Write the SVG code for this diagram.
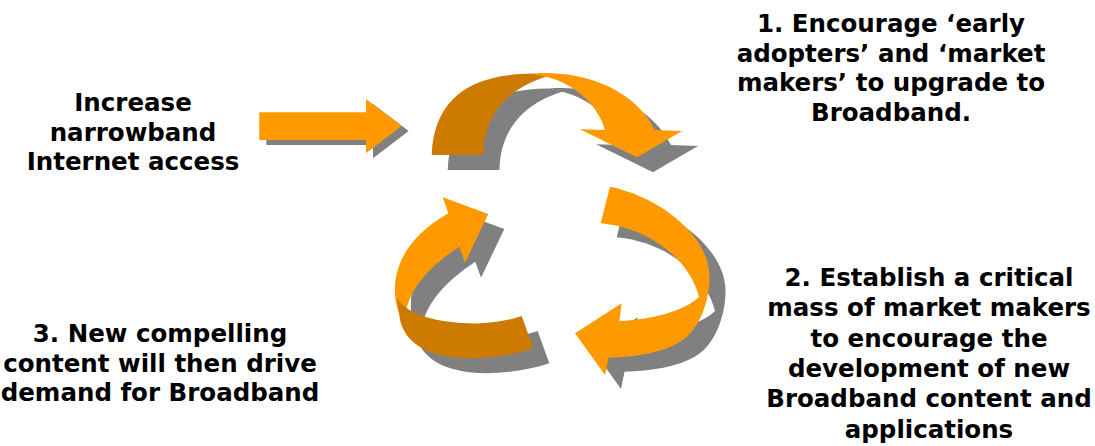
<svg xmlns="http://www.w3.org/2000/svg" width="1095" height="446" viewBox="0 0 1095 446">
<style>
.t{font-family:"DejaVu Sans","Verdana",sans-serif;font-weight:bold;font-size:24.5px;fill:#000;text-anchor:middle}
.o{fill:#FF9900}
.d{fill:#CC7A00}
.g{fill:#808080}
</style>
<defs>
<path id="straight" d="M259.3,112.3 H366 V99 L401.7,126 L366,153.3 V140 H259.3 Z"/>
<path id="topDark" d="M431.7,155 C434,100 468,74 533,73.5 L547,76.5 C508,88 484,115 483.5,155 Z"/>
<path id="topOrange" d="M533,73.5 C585,70 635,90 655,130 L682,131 L637,157.3 L580,129.3 L605,130 C598,105 575,84 547,77 Z"/>
<path id="rightOrange" d="M610,186.7 C660,197 708,235 709.5,275 C710,300 700,330 680,342 C662,353 635,357 608.5,357.7 L605,375 L575,333.3 L621.7,303.3 L619.3,321 C650,320 685,311 699,297 C690,260 650,228 600.7,223.3 Z"/>
<path id="leftOrange" d="M448.3,213.3 L442.7,197.3 L488.3,214 L465,262.7 L459.3,246.7 C430,266 410,288 406,312 L401,318 C388,290 392,245 448.3,213.3 Z"/>
<path id="leftDark" d="M397,298 C408,316 440,323 475,323.5 C495,323 510,320 521.7,316 L533.3,348.3 C510,356 480,360 455,357.5 C425,354 405,342 400,320 Z"/>
</defs>
<g id="connectors">
<g id="arrow-in">
<use href="#straight" class="g" transform="translate(7 5)"/>
<use href="#straight" class="o"/>
</g>
<g id="arrow-1">
<g class="g" transform="translate(16 15)"><use href="#topDark"/><use href="#topOrange"/></g>
<use href="#topDark" class="d"/>
<use href="#topOrange" class="o"/>
</g>
<g id="arrow-2">
<use href="#rightOrange" class="g" transform="translate(16 14)"/>
<use href="#rightOrange" class="o"/>
</g>
<g id="arrow-3">
<g class="g" transform="translate(16 15)"><use href="#leftOrange"/><use href="#leftDark"/></g>
<use href="#leftOrange" class="o"/>
<use href="#leftDark" class="d"/>
</g>
</g>
<g id="node-start">
<text class="t" y="111"><tspan x="133">Increase</tspan><tspan x="133" dy="29.5">narrowband</tspan><tspan x="133" dy="29.5">Internet access</tspan></text>
</g>
<g id="node-1">
<text class="t" y="32"><tspan x="891">1. Encourage ‘early</tspan><tspan x="891" dy="29.7">adopters’ and ‘market</tspan><tspan x="891" dy="29.7">makers’ to upgrade to</tspan><tspan x="891" dy="29.7">Broadband.</tspan></text>
</g>
<g id="node-2">
<text class="t" y="286"><tspan x="929">2. Establish a critical</tspan><tspan x="929" dy="30.3">mass of market makers</tspan><tspan x="929" dy="30.3">to encourage the</tspan><tspan x="929" dy="30.3">development of new</tspan><tspan x="929" dy="30.3">Broadband content and</tspan><tspan x="929" dy="30.3">applications</tspan></text>
</g>
<g id="node-3">
<text class="t" y="342"><tspan x="160">3. New compelling</tspan><tspan x="160" dy="29.5">content will then drive</tspan><tspan x="160" dy="29.5">demand for Broadband</tspan></text>
</g>
</svg>
